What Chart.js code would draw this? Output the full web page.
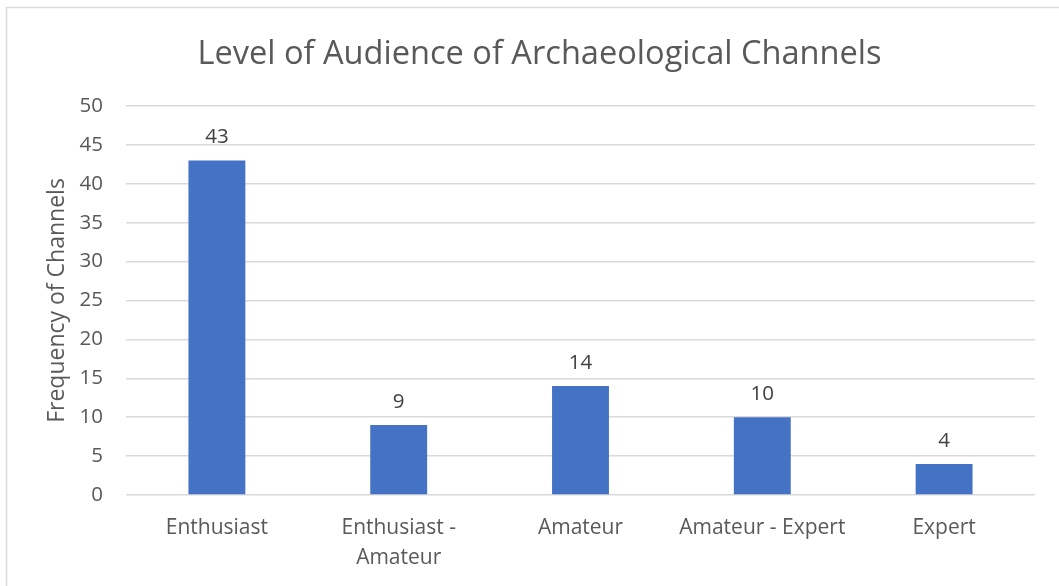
<!DOCTYPE html>
<html>
<head>
<meta charset="utf-8">
<script src="https://cdn.jsdelivr.net/npm/chart.js@4.4.1/dist/chart.umd.min.js"></script>
<style>
  html, body { margin: 0; padding: 0; background: #ffffff; }
  #wrap { position: relative; width: 1059px; height: 586px; }
</style>
</head>
<body>
<div id="wrap"><canvas id="c" width="1059" height="586"></canvas></div>
<script>
const chartTitle = "Level of Audience of Archaeological Channels";
const yAxisTitle = "Frequency of Channels";
const categories = [["Enthusiast"], ["Enthusiast -", "Amateur"], ["Amateur"], ["Amateur - Expert"], ["Expert"]];
const frequencies = [43, 9, 14, 10, 4];
const yTickMin = 0;
const yTickMax = 50;
const yTickStep = 5;

const FONT = "'Open Sans', 'DejaVu Sans', sans-serif";

const frame = {
  id: 'frame',
  beforeDraw(chart) {
    const ctx = chart.ctx;
    ctx.save();
    ctx.fillStyle = '#ffffff';
    ctx.fillRect(0, 0, chart.width, chart.height);
    ctx.strokeStyle = '#d9d9d9';
    ctx.lineWidth = 1.5;
    ctx.strokeRect(6.5, 7.5, 1060, 600);
    ctx.restore();
  }
};

const valueLabels = {
  id: 'valueLabels',
  afterDatasetsDraw(chart) {
    const ctx = chart.ctx;
    const meta = chart.getDatasetMeta(0);
    ctx.save();
    ctx.font = "20.5px " + FONT;
    ctx.fillStyle = '#404040';
    ctx.textAlign = 'center';
    ctx.textBaseline = 'middle';
    meta.data.forEach((bar, i) => {
      ctx.fillText(String(chart.data.datasets[0].data[i]), bar.x, bar.y - 23);
    });
    ctx.restore();
  }
};

new Chart(document.getElementById('c'), {
  type: 'bar',
  data: {
    labels: categories,
    datasets: [{
      data: frequencies,
      backgroundColor: '#4472C4',
      borderWidth: 0,
      barPercentage: 0.313,
      categoryPercentage: 1.0
    }]
  },
  options: {
    responsive: false,
    animation: false,
    devicePixelRatio: 1,
    layout: { padding: { left: 44, right: 24, top: 0, bottom: 0 } },
    plugins: {
      legend: { display: false },
      tooltip: { enabled: false },
      title: {
        display: true,
        text: chartTitle,
        color: '#595959',
        font: { family: FONT, size: 32.6, weight: 'normal', lineHeight: 1.2 },
        padding: { top: 35.5, bottom: 31.4 }
      }
    },
    scales: {
      x: {
        grid: { display: false },
        border: { display: false },
        ticks: {
          color: '#595959',
          font: { family: FONT, size: 21, lineHeight: 1.43 },
          padding: 10,
          maxRotation: 0,
          autoSkip: false
        },
        afterFit(scale) { scale.height = 91; }
      },
      y: {
        min: yTickMin,
        max: yTickMax,
        grid: { color: '#d9d9d9', lineWidth: 1.5, drawTicks: false },
        border: { display: false },
        ticks: {
          stepSize: yTickStep,
          color: '#595959',
          font: { family: FONT, size: 20.5 },
          padding: 23
        },
        title: {
          display: true,
          text: yAxisTitle,
          color: '#595959',
          font: { family: FONT, size: 23, lineHeight: 1.2 },
          padding: 0
        },
        afterFit(scale) { scale.width = 82; }
      }
    }
  },
  plugins: [frame, valueLabels]
});
</script>
</body>
</html>
